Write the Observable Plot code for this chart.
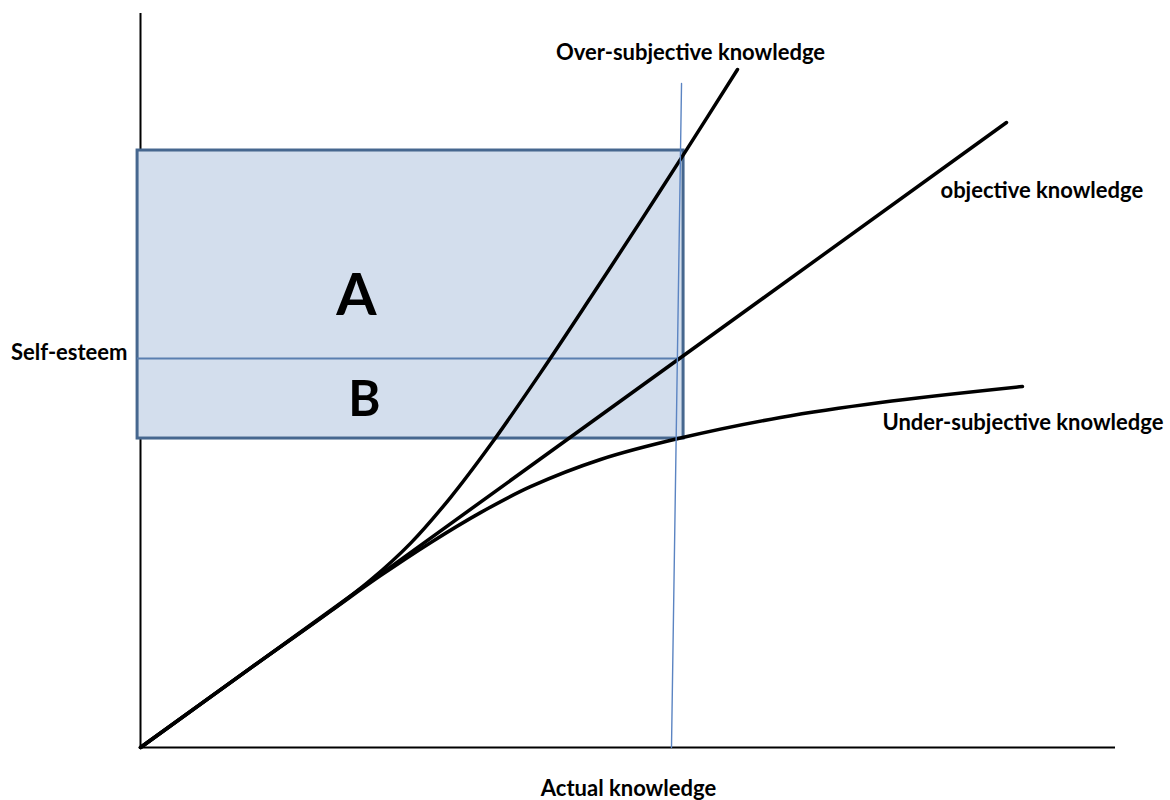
<!DOCTYPE html>
<html>
<head>
<meta charset="utf-8">
<script src="https://cdn.jsdelivr.net/npm/d3@7"></script>
<script src="https://cdn.jsdelivr.net/npm/@observablehq/plot@0.6"></script>
<style>
  html, body { margin: 0; padding: 0; background: #fff; }
  #chart svg { display: block; }
</style>
</head>
<body>
<div id="chart"></div>
<script>
// Actual knowledge (x) vs self-esteem (y), abstract units
const overX  = [0, 1.128, 1.949, 2.359, 2.769, 3.179, 3.590, 4.103, 4.615, 5.128, 5.569, 6.123];
const overY  = [0, 0.811, 1.393, 1.710, 2.086, 2.554, 3.093, 3.828, 4.595, 5.376, 6.058, 6.928];

const objX   = [0, 8.882];
const objY   = [0, 6.386];

const underX = [0, 1.128, 1.949, 2.462, 2.974, 3.487, 4.000, 4.718, 5.538, 6.564, 7.590, 9.046];
const underY = [0, 0.811, 1.393, 1.756, 2.093, 2.400, 2.665, 2.943, 3.162, 3.372, 3.525, 3.688];

// shaded region A+B and its split
const regionX = [-0.03, 5.57];
const regionY = [3.157, 6.10];
const splitY  = 3.975;

// the actual-knowledge marker (slightly slanted)
const markerX = [5.549, 5.446];
const markerY = [6.784, 0];

// axis extents
const xMax = 10;
const yMax = 7.5;

// labels
const midLabels = ["Over-subjective knowledge", "Actual knowledge"];
const midLabelX = [5.641, 5.005];
const midLabelY = [7.101, -0.419];

const startLabels = ["objective knowledge", "Under-subjective knowledge"];
const startLabelX = [8.205, 7.610];
const startLabelY = [5.691, 3.321];

const endLabels = ["Self-esteem"];
const endLabelX = [-0.133];
const endLabelY = [4.036];

const regionLabels = ["A", "B"];
const regionLabelX = [2.215, 2.297];
const regionLabelY = [4.608, 3.546];
const regionLabelSize = [58, 49];

const toPts = (xs, ys) => xs.map((x, i) => ({x, y: ys[i]}));
const labs = (ts, xs, ys) => ts.map((t, i) => ({t, x: xs[i], y: ys[i]}));
const over = toPts(overX, overY);
const obj = toPts(objX, objY);
const under = toPts(underX, underY);
const marker = toPts(markerX, markerY);

const font = "Lato, 'Open Sans', sans-serif";
const labelStyle = {x: "x", y: "y", text: "t", fontSize: 22, fontWeight: "bold", fill: "#000", fontFamily: font};

const chart = Plot.plot({
  width: 1170,
  height: 800,
  marginLeft: 140,
  marginRight: 55,
  marginTop: 13,
  marginBottom: 53,
  x: {domain: [0, xMax], axis: null},
  y: {domain: [0, yMax], axis: null},
  style: {background: "#fff", fontFamily: font},
  marks: [
    // axes
    Plot.ruleY([0], {x1: 0, x2: xMax, stroke: "#000", strokeWidth: 2}),
    Plot.ruleX([0], {y1: 0, y2: yMax, stroke: "#000", strokeWidth: 2}),
    // shaded rectangle
    Plot.rect([{}], {x1: regionX[0], x2: regionX[1], y1: regionY[0], y2: regionY[1],
      fill: "#d3deed", stroke: "#46678f", strokeWidth: 3}),
    Plot.ruleY([splitY], {x1: regionX[0], x2: regionX[1], stroke: "#5a7fb0", strokeWidth: 2}),
    // curves
    Plot.line(obj, {x: "x", y: "y", stroke: "#000", strokeWidth: 3.5}),
    Plot.line(over, {x: "x", y: "y", stroke: "#000", strokeWidth: 3.5, curve: "catmull-rom"}),
    Plot.line(under, {x: "x", y: "y", stroke: "#000", strokeWidth: 3.5, curve: "catmull-rom"}),
    // vertical marker
    Plot.line(marker, {x: "x", y: "y", stroke: "#5b84c2", strokeWidth: 1.4}),
    // labels
    Plot.text(labs(midLabels, midLabelX, midLabelY), {...labelStyle, textAnchor: "middle"}),
    Plot.text(labs(startLabels, startLabelX, startLabelY), {...labelStyle, textAnchor: "start"}),
    Plot.text(labs(endLabels, endLabelX, endLabelY), {...labelStyle, textAnchor: "end"}),
    Plot.text(labs(regionLabels.slice(0, 1), regionLabelX.slice(0, 1), regionLabelY.slice(0, 1)),
      {...labelStyle, fontSize: regionLabelSize[0]}),
    Plot.text(labs(regionLabels.slice(1), regionLabelX.slice(1), regionLabelY.slice(1)),
      {...labelStyle, fontSize: regionLabelSize[1]})
  ]
});
document.getElementById("chart").append(chart);
</script>
</body>
</html>
